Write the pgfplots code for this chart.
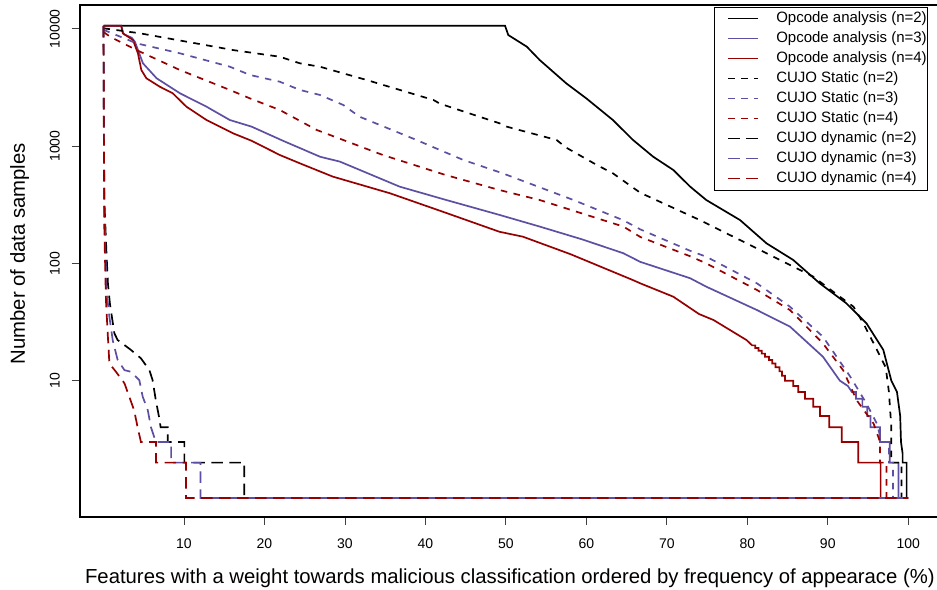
\documentclass[border=0pt]{standalone}
\usepackage{fontspec}
\setmainfont{Liberation Sans}
\usepackage{pgfplots}
\pgfplotsset{compat=1.18}
\definecolor{cpurple}{RGB}{94,79,162}
\definecolor{cred}{RGB}{150,0,0}
\pgfplotsset{
  solidl/.style={line width=1.7bp},
  static/.style={line width=1.7bp, dash pattern=on 6.5bp off 6.5bp},
  dynamic/.style={line width=1.7bp, dash pattern=on 11.5bp off 6.5bp},
}
\begin{document}
\begin{tikzpicture}
\begin{axis}[
  at={(79.7bp,73.3bp)}, anchor=south west,
  scale only axis, width=860.4bp, height=511.7bp,
  xmin=-2.96, xmax=103.96, ymode=log, ymin=0.692, ymax=15960,
  xtick={10,20,30,40,50,60,70,80,90,100},
  xticklabels={10,20,30,40,50,60,70,80,90,100},
  ytick={10,100,1000,10000}, yticklabels={10,100,1000,10000},
  yminorticks=false,
  tick align=outside, xtick pos=bottom, ytick pos=left,
  major tick length=8bp,
  tick style={line width=0.8bp, black!75},
  axis line style={line width=1.8bp},
  ticklabel style={font=\fontsize{14bp}{16bp}\selectfont},
  xticklabel style={anchor=north, inner sep=0pt},
  xticklabel shift=13.6bp,
  yticklabel style={rotate=90, anchor=south, inner sep=0pt},
  yticklabel shift=11.7bp,
  xlabel={Features with a weight towards malicious classification ordered by frequency of appearace (\%)},
  ylabel={Number of data samples},
  label style={font=\fontsize{20.3bp}{24bp}\selectfont},
  xlabel style={at={(axis description cs:0.5,-0.130)}, anchor=base},
  ylabel style={at={(axis description cs:-0.0636,0.514)}, anchor=base},
  legend image code/.code={\path (-12bp,0bp); \draw[#1] (0bp,0bp) -- (30bp,0bp);},
  legend cell align=left,
  legend style={at={(axis description cs:0.986,0.9967)}, anchor=north east,
    draw=black, line width=0.6bp, fill=white,
    font=\fontsize{15bp}{18bp}\selectfont,
    inner xsep=1bp, inner ysep=4.6bp,
    nodes={inner xsep=0bp, inner ysep=0bp, text height=10.5bp, text depth=3.5bp},
    row sep=6bp,
    /tikz/every odd column/.append style={column sep=17bp}},
]
% Opcode n=2
\addplot[solidl, black] coordinates {
(0,10600) (49.9,10600) (50.3,8850) (52.6,7040) (54.2,5420) (57.5,3430) (60.0,2550)
(63.3,1668) (65.8,1127) (68.3,812) (70.8,626) (72.9,451) (74.9,347) (79.1,234)
(82.4,148) (85.7,107) (89.0,67.6) (92.3,45.7) (94.8,30.9) (96.9,18.3) (97.9,10)
(98.6,8) (99.0,5) (99.1,3) (99.3,2.4) (99.3,2) (99.8,2) (99.8,1) (100,1)};
\addlegendentry{Opcode analysis (n=2)}
% Opcode n=3
\addplot[solidl, cpurple] coordinates {
(0,10600) (2.2,10600) (2.5,9000) (3.5,8400) (3.9,7760) (4.9,5080) (6.6,3785) (9.5,2820)
(12.8,2168) (15.7,1668) (18.4,1465) (22.3,1110) (26.9,812)
(29.4,736) (33.0,580) (36.8,451) (42.4,350) (49.2,259) (54.2,206) (59.5,160)
(64.6,122) (66.7,103) (72.9,74.7) (74.9,63.3) (81.2,40) (85.3,28.9) (89.4,16)
(91.5,10) (92.5,9) (93.0,8) (93.5,8) (93.5,7) (94.3,7) (94.3,6) (94.9,6) (94.9,5)
(95.3,5) (95.3,4) (96.5,4) (96.5,3) (97.7,3) (97.7,2) (98.8,2) (98.8,1) (100,1)};
\addlegendentry{Opcode analysis (n=3)}
% Opcode n=4
\addplot[solidl, cred] coordinates {
(0,10600) (2.2,10600) (2.4,9160) (3.66,8020) (4.28,6180) (4.7,4450) (5.33,3785) (7.0,3207)
(8.6,2820) (10.3,2168) (12.8,1668) (16.1,1285) (18.4,1110) (21.9,840) (24.4,713)
(28.5,549) (35.6,396) (42.4,272) (49.2,186) (52.1,169) (58.0,120) (65.8,72) (66.7,67.6)
(70.8,52) (74.0,37) (75.8,32.9) (79.9,22.2) (80.6,20) (81.0,20) (81.0,19) (81.4,19)
(81.4,18) (81.8,18) (81.8,17) (82.2,17) (82.2,16) (82.7,16) (82.7,15) (83.1,15)
(83.1,14) (83.5,14) (83.5,13) (84.0,13) (84.0,12) (84.3,12) (84.3,11) (84.68,11)
(84.68,10) (85.71,10) (85.71,9) (86.33,9) (86.33,8) (87.16,8) (87.16,7) (88.2,7)
(88.2,6) (89.03,6) (89.03,5) (90.18,5) (90.18,4) (91.73,4) (91.73,3) (93.79,3)
(93.79,2) (96.57,2) (96.57,1) (100,1)};
\addlegendentry{Opcode analysis (n=4)}
% CUJO static n=2
\addplot[static, black] coordinates {
(0,10100) (4.5,9160) (16.1,6590) (21.9,5780) (24.4,5080) (26.9,4750) (32.7,3660)
(41.0,2472) (41.8,2300) (49.2,1565) (50.1,1465) (56.3,1127) (57.5,970) (61.3,690)
(63.3,586) (66.7,400) (74.1,234) (79.1,158) (84.9,100) (88.2,77) (91.5,52) (93.2,42.7)
(94.4,31) (95.7,20.8) (97.2,13) (97.6,8) (97.9,4) (97.9,2) (99.15,2) (99.15,1) (100,1)};
\addlegendentry{CUJO Static (n=2)}
% CUJO static n=3
\addplot[static, cpurple] coordinates {
(0,9800) (4.1,7520) (9.5,6180) (15.7,4750) (18.2,4040) (21.9,3540) (24.4,3010)
(26.9,2728) (29.8,2240) (31.8,1782) (38.9,1127) (41.8,926) (44.7,762) (49.6,586)
(58.4,347) (64.6,233) (66.7,195) (72.9,128) (74.9,114) (81.2,67.6) (85.3,42.7)
(89.4,23.7) (92.8,10.8) (94.8,6.4) (96.1,4.3) (96.7,3) (97.6,3) (97.6,2) (98.1,2)
(98.1,1) (100,1)};
\addlegendentry{CUJO Static (n=3)}
% CUJO static n=4
\addplot[static, cred] coordinates {
(0,9400) (0.8,8570) (4.1,6590) (9.5,4450) (15.7,3010) (18.2,2550) (21.9,2032)
(26.5,1372) (34.7,840) (42.4,570) (49.2,422) (54.2,347) (64.6,206) (66.7,168)
(72.9,115) (74.9,100) (81.2,59.3) (85.3,40) (89.4,20.8) (91.9,12.3) (93.6,6.8)
(95.7,4.3) (96.5,3) (96.5,2) (97.3,2) (97.3,1) (100,1)};
\addlegendentry{CUJO Static (n=4)}
% CUJO dynamic n=2
\addplot[dynamic, black] coordinates {
(0,10600) (0.03,3000) (0.1,350) (0.35,130) (0.55,67) (0.8,45) (1.35,25.3) (1.76,22.2)
(3.4,18.3) (4.65,15.5) (5.7,12.3) (6.1,10.1) (6.5,6.8) (6.9,4.9) (7.1,4) (7.97,4)
(7.97,3) (10.05,3) (10.05,2) (17.5,2) (17.5,1) (100,1)};
\addlegendentry{CUJO dynamic (n=2)}
% CUJO dynamic n=3
\addplot[dynamic, cpurple] coordinates {
(0,10600) (0.03,2500) (0.1,300) (0.35,60) (0.73,35) (1.14,22.2) (1.76,15) (2.6,12.3)
(3.4,11.9) (4.45,10.1) (4.87,7.3) (5.5,5.6) (5.9,4) (6.5,3) (8.4,3) (8.4,2)
(12.04,2) (12.04,1) (100,1)};
\addlegendentry{CUJO dynamic (n=3)}
% CUJO dynamic n=4
\addplot[dynamic, cred] coordinates {
(0,10600) (0.03,2000) (0.1,200) (0.3,48.7) (0.52,25.3) (0.73,14) (1.55,11.9) (2.6,9.5)
(3.2,7.3) (3.8,5.6) (4.24,4) (4.65,3) (6.52,3) (6.52,2) (10.25,2) (10.25,1) (100,1)};
\addlegendentry{CUJO dynamic (n=4)}
\end{axis}
\pgfresetboundingbox
\path[use as bounding box] (0,0) rectangle (937bp,590bp);
\end{tikzpicture}
\end{document}
